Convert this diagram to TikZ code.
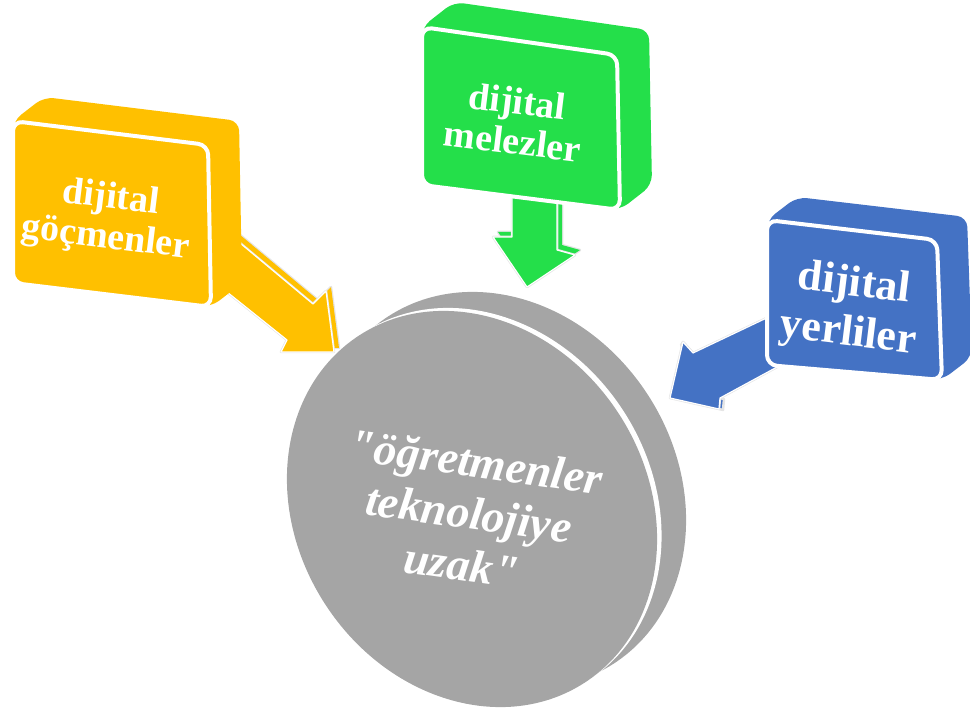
\documentclass[tikz,border=0pt]{standalone}
\usepackage{fontspec}
\setmainfont{Liberation Serif}[Ligatures=TeXOff]
\usetikzlibrary{calc}
\definecolor{cyellow}{RGB}{255,192,0}
\definecolor{cgreen}{RGB}{36,223,74}
\definecolor{cblue}{RGB}{68,114,196}
\definecolor{cgray}{RGB}{165,165,165}
\begin{document}
\begin{tikzpicture}[x=1pt,y=-1pt,
  boxtext/.style={text=white,font=\bfseries\fontsize{38}{40}\selectfont,align=center,inner sep=0pt},
  bigboxtext/.style={text=white,font=\bfseries\fontsize{44}{50}\selectfont,align=center,inner sep=0pt},
  disctext/.style={text=white,font=\bfseries\itshape\fontsize{46}{52}\selectfont,align=center,inner sep=0pt},
  halo/.style={draw=black!10,line width=2.5pt,line join=round},
  frontface/.style={draw=white,line width=4pt,rounded corners=10pt},
  arrowfront/.style={draw=white,line width=1.2pt,line join=round},
  discshape/.style={rotate around={-57:(472,509)}},
]
\useasboundingbox (0,0) rectangle (970,708);

% ---------- central disc ----------
\fill[cgray, shift={(29,-19)}, discshape]
  (472,509) ellipse [x radius=207, y radius=175];
\fill[white, shift={(4.5,-3)}, discshape]
  (472,509) ellipse [x radius=207, y radius=175];
\fill[cgray, discshape]
  (472,509) ellipse [x radius=207, y radius=175];
\node[disctext, rotate=-8] (quote) at (469,513) {"öğretmenler\\teknolojiye\\uzak"};

% ---------- yellow arrow ----------
\coordinate (ya0) at (222,228); \coordinate (ya1) at (313,304);
\coordinate (ya2) at (326,291); \coordinate (ya3) at (334,352);
\coordinate (ya4) at (281,352); \coordinate (ya5) at (287,340);
\coordinate (ya6) at (212,280);
\begin{scope}[shift={(5,-4)}]
  \path[halo] (222,228) -- (313,304) -- (326,291) -- (334,352) -- (281,352) -- (287,340) -- (212,280) -- cycle;
  \fill[cyellow] (222,228) -- (313,304) -- (326,291) -- (334,352) -- (281,352) -- (287,340) -- (212,280) -- cycle;
\end{scope}
\path[halo] (ya0) -- (ya1) -- (ya2) -- (ya3) -- (ya4) -- (ya5) -- (ya6) -- cycle;
\filldraw[arrowfront, fill=cyellow] (ya0) -- (ya1) -- (ya2) -- (ya3) -- (ya4) -- (ya5) -- (ya6) -- cycle;

% ---------- green arrow ----------
\coordinate (ga0) at (512,195); \coordinate (ga1) at (512,237);
\coordinate (ga2) at (493,237); \coordinate (ga3) at (527,287);
\coordinate (ga4) at (575,255); \coordinate (ga5) at (557,250);
\coordinate (ga6) at (557,195);
\begin{scope}[shift={(5,-5)}]
  \path[halo] (512,195) -- (512,237) -- (493,237) -- (527,287) -- (575,255) -- (557,250) -- (557,195) -- cycle;
  \fill[cgreen] (512,195) -- (512,237) -- (493,237) -- (527,287) -- (575,255) -- (557,250) -- (557,195) -- cycle;
\end{scope}
\path[halo] (ga0) -- (ga1) -- (ga2) -- (ga3) -- (ga4) -- (ga5) -- (ga6) -- cycle;
\filldraw[arrowfront, fill=cgreen] (ga0) -- (ga1) -- (ga2) -- (ga3) -- (ga4) -- (ga5) -- (ga6) -- cycle;

% ---------- blue arrow ----------
\coordinate (ba0) at (775,314); \coordinate (ba1) at (693,353);
\coordinate (ba2) at (683,342); \coordinate (ba3) at (670,398);
\coordinate (ba4) at (719,409); \coordinate (ba5) at (720,398);
\coordinate (ba6) at (790,360);
\path[halo] (ba0) -- (ba1) -- (ba2) -- (ba3) -- (ba4) -- (ba5) -- (ba6) -- cycle;
\filldraw[halo, fill=cblue] (ba2) -- (ba1) -- ++(-2,3) -- ++(-10,-11) -- cycle;
\filldraw[halo, fill=cblue] (ba5) -- (ba4) -- ++(4,1) -- ++(1,-11) -- cycle;
\filldraw[arrowfront, fill=cblue] (ba0) -- (ba1) -- (ba2) -- (ba3) -- (ba4) -- (ba5) -- (ba6) -- cycle;

% ---------- yellow box ----------
\coordinate (yA) at (13,121); \coordinate (yB) at (208,145);
\coordinate (yC) at (211,307); \coordinate (yD) at (13,283);
\coordinate (yv) at (31,-24);
\fill[cyellow, rounded corners=10pt] (yA) -- ($(yA)+(yv)$) -- ($(yB)+(yv)$) -- ($(yC)+(yv)$) -- (yC) -- (yD) -- cycle;
\filldraw[frontface, fill=cyellow] (yA) -- (yB) -- (yC) -- (yD) -- cycle;
\node[boxtext, rotate=-7] (ytext) at (108,219) {dijital\\göçmenler};

% ---------- green box ----------
\coordinate (gA) at (422,27); \coordinate (gB) at (617,55);
\coordinate (gC) at (620,210); \coordinate (gD) at (422,185);
\coordinate (gv) at (32,-25);
\fill[cgreen, rounded corners=10pt] (gA) -- ($(gA)+(gv)$) -- ($(gB)+(gv)$) -- ($(gC)+(gv)$) -- (gC) -- (gD) -- cycle;
\filldraw[frontface, fill=cgreen] (gA) -- (gB) -- (gC) -- (gD) -- cycle;
\node[boxtext, rotate=-7] (gtext) at (515,121) {dijital\\melezler};

% ---------- blue box ----------
\coordinate (bA) at (767,220); \coordinate (bB) at (937,240);
\coordinate (bC) at (942,380); \coordinate (bD) at (767,365);
\coordinate (bv) at (30,-23);
\fill[cblue, rounded corners=10pt] (bA) -- ($(bA)+(bv)$) -- ($(bB)+(bv)$) -- ($(bC)+(bv)$) -- (bC) -- (bD) -- cycle;
\filldraw[frontface, fill=cblue] (bA) -- (bB) -- (bC) -- (bD) -- cycle;
\node[bigboxtext, rotate=-7] (btext) at (851,310) {dijital\\yerliler};
\end{tikzpicture}
\end{document}
